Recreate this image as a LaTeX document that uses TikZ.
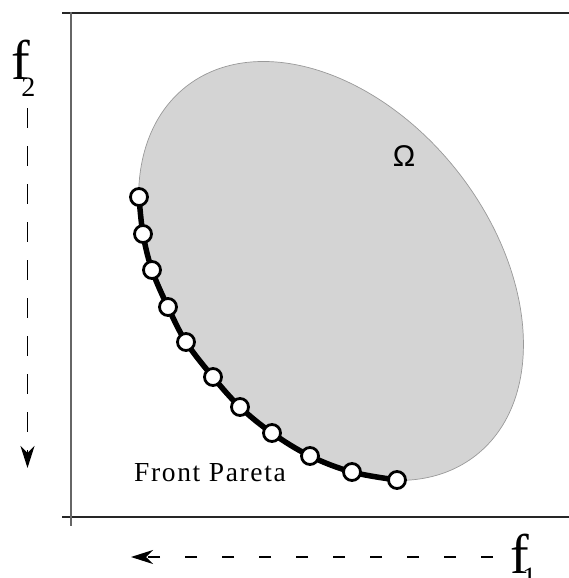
\documentclass[tikz,border=0pt]{standalone}
\usepackage{fontspec}
\setmainfont{Liberation Serif}
\newfontfamily\omegafont{Liberation Sans}
\usetikzlibrary{arrows.meta}

\begin{document}
\begin{tikzpicture}[
x=1pt, y=-1pt,
frame/.style={line width=1.6pt, black!85},
region/.style={fill=black!17, draw=black!40, line width=0.7pt},
front/.style={line width=5.5pt, black},
dot/.style={circle, draw=black, fill=white, line width=2.8pt, minimum size=17pt, inner sep=0pt},
dir/.style={line width=1.2pt, -{Stealth[length=22pt, width=14pt, inset=7pt]}},
lbl/.style={inner sep=0pt, anchor=base west}
]
\useasboundingbox (0,0) rectangle (569,578);
% axes
\draw[frame] (62,13) -- (569,13);
\draw[frame] (62,517) -- (569,517);
\draw[line width=2.4pt, black!60] (71,12) -- (71,526);
% feasible region
\coordinate (centre) at (331,271);
\draw[region, rotate around={-51.8:(centre)}] (centre) ellipse [x radius=234.5, y radius=161];
\node[inner sep=0pt] (omega) at (404,156) {\omegafont\fontsize{30}{30}\selectfont Ω};
% Pareto front
\foreach \i/\x/\y in {1/139/197, 2/143/234, 3/152/270, 4/168/307, 5/186/342,
  6/213/377, 7/240/407, 8/272/433, 9/310/456, 10/352/472, 11/397/480}
  \coordinate (c\i) at (\x,\y);
\draw[front] plot[smooth, tension=0.6] coordinates {(c1) (c2) (c3) (c4) (c5)
  (c6) (c7) (c8) (c9) (c10) (c11)};
\foreach \i in {1,...,11}
  \node[dot] (p\i) at (c\i) {};
\node[lbl] (front) at (134,481) {\fontsize{27.5}{27.5}\selectfont\addfontfeatures{LetterSpace=6}Front Pareta};
% objective labels and directions
\node[lbl] (ftwo) at (11,80) {\fontsize{56}{56}\selectfont f\kern-8.5pt\raisebox{-17pt}{\fontsize{28}{28}\selectfont 2}};
\node[lbl] (fone) at (510,573) {\fontsize{56}{56}\selectfont f\kern-6.5pt\raisebox{-13pt}{\fontsize{28}{28}\selectfont 1}};
\coordinate (vstart) at (27.5,108);
\coordinate (vend) at (27.5,468);
\coordinate (hstart) at (493,557);
\coordinate (hend) at (131,557);
\draw[dir, dash pattern=on 20pt off 18pt] (vstart) -- (vend);
\draw[dir, dash pattern=on 12pt off 25pt] (hstart) -- (hend);
\end{tikzpicture}
\end{document}
